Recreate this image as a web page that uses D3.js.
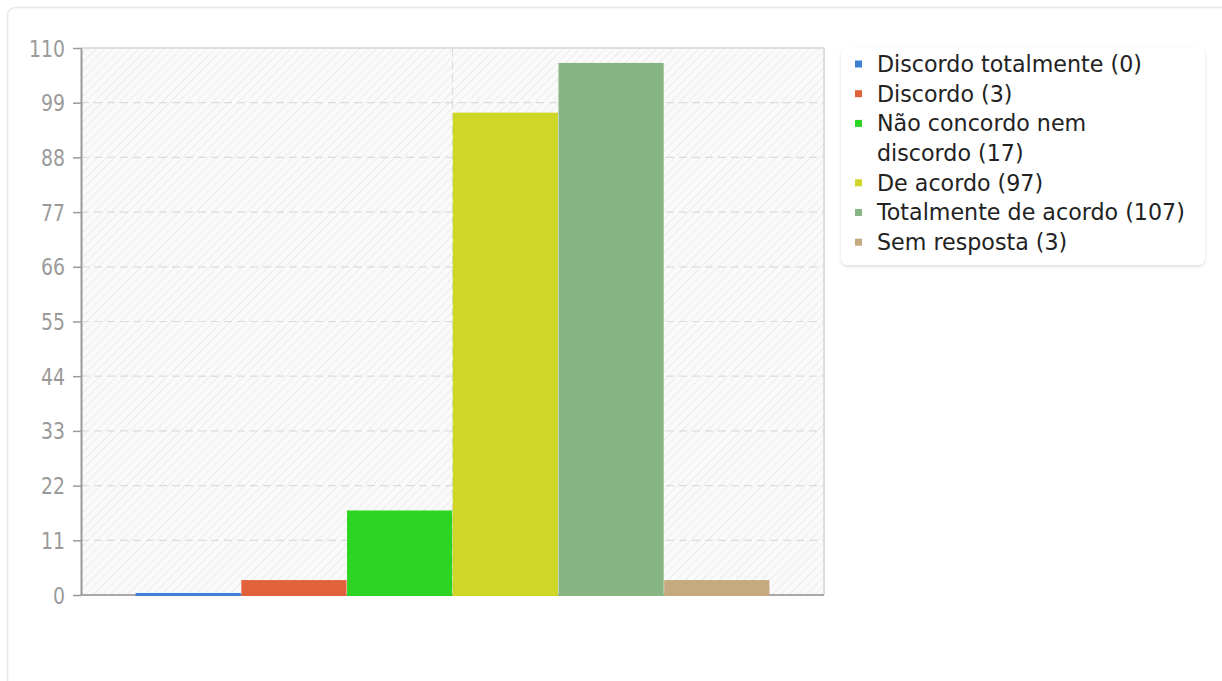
<!DOCTYPE html>
<html>
<head>
<meta charset="utf-8">
<script src="https://cdn.jsdelivr.net/npm/d3@7"></script>
<style>
html,body{margin:0;padding:0;background:#fff;}
svg{display:block;font-family:"DejaVu Sans",sans-serif;}
</style>
</head>
<body>
<svg id="chart" width="1222" height="681"></svg>
<script>
const categories = ["Discordo totalmente", "Discordo", "Não concordo nem\ndiscordo", "De acordo", "Totalmente de acordo", "Sem resposta"];
const values = [0, 3, 17, 97, 107, 3];
const colors = ["#3d80d6", "#e0613a", "#2ed423", "#cfd625", "#87b583", "#c5a97f"];
const yTicks = [0, 11, 22, 33, 44, 55, 66, 77, 88, 99, 110];
const legendLabels = categories.map((c, i) => c + " (" + values[i] + ")");

(function () {
const svg = d3.select("#chart");
const defs = svg.append("defs");
const pat = defs.append("pattern").attr("id", "hatch").attr("patternUnits", "userSpaceOnUse")
  .attr("width", 6).attr("height", 6).attr("patternTransform", "rotate(45)");
pat.append("rect").attr("width", 6).attr("height", 6).attr("fill", "#fafafa");
pat.append("line").attr("x1", 0).attr("y1", 0).attr("x2", 0).attr("y2", 6).attr("stroke", "#ececec").attr("stroke-width", 2);
const shadow = defs.append("filter").attr("id", "shadow").attr("x", "-10%").attr("y", "-10%").attr("width", "120%").attr("height", "130%");
shadow.append("feDropShadow").attr("dx", 0).attr("dy", 1.5).attr("stdDeviation", 1.5).attr("flood-color", "#000").attr("flood-opacity", 0.15);

// outer card
svg.append("rect").attr("x", 7.5).attr("y", 7.5).attr("width", 1240).attr("height", 700).attr("rx", 8)
  .attr("fill", "#fff").attr("stroke", "#e8e8e8").attr("stroke-width", 1.5);

const pLeft = 81, pRight = 824, pTop = 48, pBottom = 595;
const y = d3.scaleLinear().domain([0, 110]).range([pBottom, pTop]);
const xOuter = d3.scaleBand().domain(["all"]).range([pLeft, pRight]).paddingOuter(0).paddingInner(0);
const innerW = xOuter.bandwidth() * 0.853;
const xInner = d3.scaleBand().domain(categories).range([0, innerW]).paddingInner(0.005);
const groupX = xOuter("all") + (xOuter.bandwidth() - innerW) / 2;

// plot background
svg.append("rect").attr("x", pLeft).attr("y", pTop).attr("width", pRight - pLeft).attr("height", pBottom - pTop)
  .attr("fill", "url(#hatch)");
// borders top/right
svg.append("line").attr("x1", pLeft).attr("x2", pRight).attr("y1", pTop).attr("y2", pTop).attr("stroke", "#dedede").attr("stroke-width", 2);
svg.append("line").attr("x1", pRight).attr("x2", pRight).attr("y1", pTop).attr("y2", pBottom).attr("stroke", "#dedede").attr("stroke-width", 2);

// gridlines
svg.append("g").selectAll("line").data(yTicks.filter(t => t > 0 && t < 110)).join("line")
  .attr("x1", pLeft).attr("x2", pRight).attr("y1", d => y(d)).attr("y2", d => y(d))
  .attr("stroke", "#dcdcdc").attr("stroke-width", 1.2).attr("stroke-dasharray", "8,5");
const centerX = xOuter("all") + xOuter.bandwidth() / 2;
svg.append("line").attr("x1", centerX).attr("x2", centerX).attr("y1", pTop).attr("y2", pBottom)
  .attr("stroke", "#dcdcdc").attr("stroke-width", 1.2).attr("stroke-dasharray", "8,5");

// x axis baseline
svg.append("line").attr("x1", pLeft).attr("x2", pRight).attr("y1", pBottom).attr("y2", pBottom)
  .attr("stroke", "#a8a8a8").attr("stroke-width", 2);

// bars
svg.append("g").selectAll("rect").data(values).join("rect")
  .attr("x", (d, i) => groupX + xInner(categories[i]))
  .attr("width", xInner.bandwidth())
  .attr("y", d => Math.min(y(d), pBottom - 2))
  .attr("height", d => Math.max(pBottom - y(d), 2) + 1)
  .attr("fill", (d, i) => colors[i]);

// y axis
const yAxis = svg.append("g").attr("transform", `translate(${pLeft},0)`)
  .call(d3.axisLeft(y).tickValues(yTicks).tickSize(8).tickSizeOuter(0).tickFormat(d3.format("d")));
yAxis.select(".domain").attr("stroke", "#9a9a9a").attr("stroke-width", 2);
yAxis.selectAll(".tick line").attr("stroke", "#9a9a9a").attr("stroke-width", 1.5);
yAxis.selectAll(".tick text").attr("fill", "#9a9a9a").attr("font-size", 23).attr("x", 0).attr("dy", "0.35em")
  .attr("font-family", "DejaVu Sans")
  .attr("transform", "translate(-16,0) scale(0.82,1)");

// legend
const lg = svg.append("g");
lg.append("rect").attr("x", 841).attr("y", 47).attr("width", 364).attr("height", 218).attr("rx", 7)
  .attr("fill", "#fff").attr("filter", "url(#shadow)");
const lineH = 29.7;
let row = 0;
legendLabels.forEach((lab, i) => {
  const cy = 64 + row * lineH;
  lg.append("rect").attr("x", 855).attr("y", cy - 3.5).attr("width", 7).attr("height", 7).attr("fill", colors[i]);
  const t = lg.append("text").attr("x", 877).attr("y", cy).attr("dy", "0.36em").attr("font-size", 22.2).attr("fill", "#222");
  lab.split("\n").forEach((ln, k) => {
    t.append("tspan").attr("x", 877).attr("dy", k === 0 ? null : lineH).text(ln);
    if (k > 0) row++;
  });
  row++;
});
})();
</script>
</body>
</html>
